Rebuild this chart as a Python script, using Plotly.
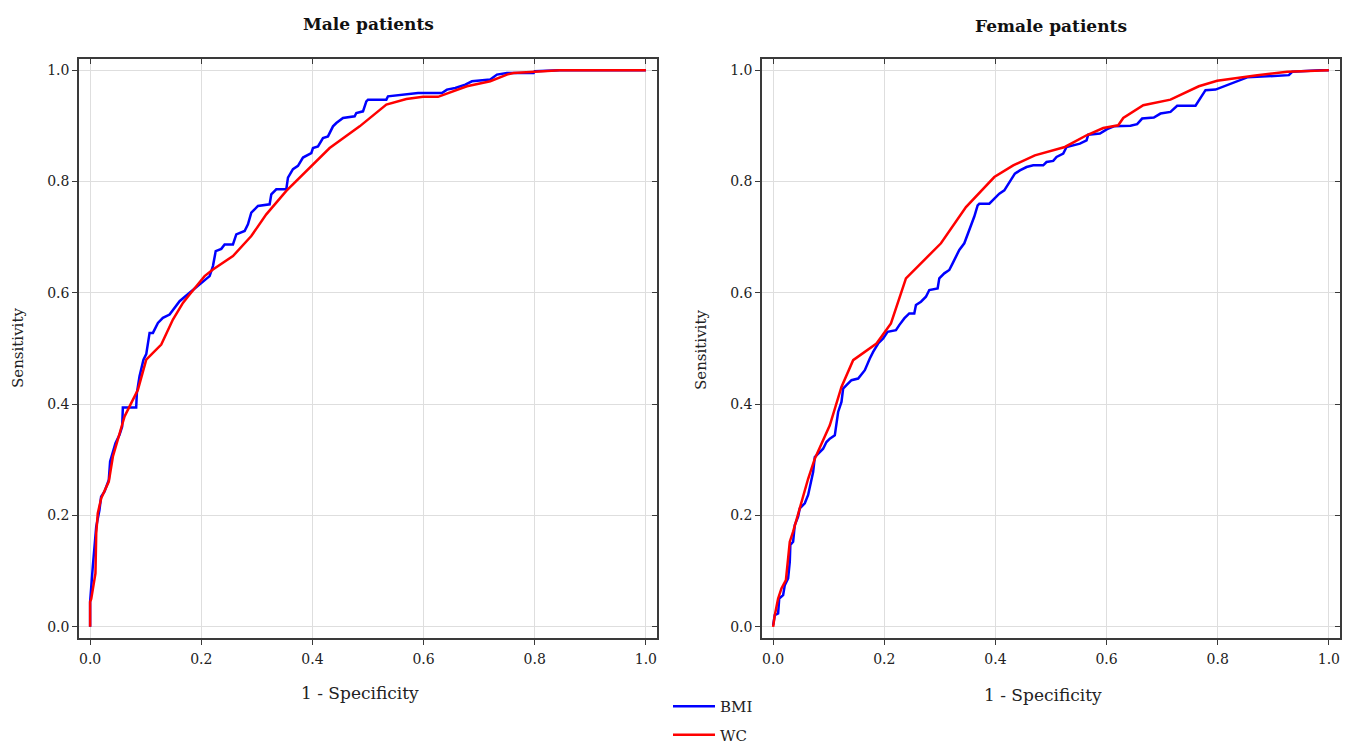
import plotly.graph_objects as go

# ---------------- data ----------------
male_bmi_fpr = [0, 0, 0.0048, 0.0078, 0.011, 0.0168, 0.0198, 0.0258, 0.0336, 0.036,
                0.0408, 0.0456, 0.0529, 0.0577, 0.0589, 0.0829, 0.0841, 0.0889, 0.096, 0.101,
                0.107, 0.113, 0.122, 0.131, 0.143, 0.152, 0.161, 0.179, 0.2, 0.215,
                0.221, 0.226, 0.236, 0.242, 0.257, 0.263, 0.278, 0.284, 0.29, 0.302,
                0.323, 0.326, 0.335, 0.353, 0.356, 0.365, 0.374, 0.383, 0.398, 0.401,
                0.41, 0.419, 0.428, 0.437, 0.443, 0.455, 0.476, 0.479, 0.491, 0.497,
                0.5, 0.533, 0.536, 0.59, 0.633, 0.642, 0.657, 0.675, 0.687, 0.72,
                0.732, 0.75, 0.798, 0.8, 0.845, 1.0]
male_bmi_tpr = [0, 0.045, 0.108, 0.147, 0.18, 0.21, 0.234, 0.243, 0.264, 0.297,
                0.312, 0.33, 0.345, 0.36, 0.394, 0.394, 0.42, 0.45, 0.48, 0.49,
                0.528, 0.528, 0.546, 0.555, 0.561, 0.573, 0.585, 0.6, 0.618, 0.63,
                0.648, 0.675, 0.679, 0.687, 0.687, 0.705, 0.711, 0.723, 0.744, 0.756,
                0.759, 0.777, 0.786, 0.786, 0.807, 0.822, 0.828, 0.843, 0.851, 0.86,
                0.863, 0.878, 0.881, 0.899, 0.905, 0.914, 0.917, 0.923, 0.926, 0.944,
                0.947, 0.947, 0.953, 0.959, 0.959, 0.965, 0.968, 0.974, 0.98, 0.983,
                0.992, 0.995, 0.995, 0.998, 1.0, 1.0]

male_wc_fpr = [0, 0, 0.002, 0.0096, 0.011, 0.0138, 0.02, 0.0336, 0.041, 0.0517,
               0.062, 0.071, 0.086, 0.101, 0.128, 0.149, 0.167, 0.179, 0.206, 0.221,
               0.257, 0.29, 0.317, 0.353, 0.401, 0.431, 0.485, 0.533, 0.569, 0.599,
               0.626, 0.678, 0.72, 0.75, 0.762, 0.8, 0.845, 1.0]
male_wc_tpr = [0, 0.045, 0.05, 0.096, 0.168, 0.204, 0.231, 0.261, 0.306, 0.342,
               0.378, 0.396, 0.426, 0.48, 0.507, 0.552, 0.582, 0.597, 0.63, 0.642,
               0.666, 0.702, 0.741, 0.783, 0.831, 0.86, 0.899, 0.938, 0.948, 0.952,
               0.952, 0.971, 0.98, 0.992, 0.995, 0.997, 1.0, 1.0]

female_bmi_fpr = [0, 0.003, 0.009, 0.011, 0.018, 0.021, 0.027, 0.03, 0.031, 0.036,
                  0.039, 0.045, 0.048, 0.057, 0.063, 0.069, 0.072, 0.075, 0.081, 0.09,
                  0.096, 0.102, 0.111, 0.114, 0.117, 0.123, 0.126, 0.132, 0.141, 0.153,
                  0.165, 0.174, 0.18, 0.189, 0.198, 0.206, 0.221, 0.227, 0.236, 0.245,
                  0.254, 0.257, 0.266, 0.275, 0.281, 0.296, 0.299, 0.308, 0.317, 0.323,
                  0.329, 0.335, 0.344, 0.35, 0.356, 0.362, 0.368, 0.371, 0.389, 0.398,
                  0.407, 0.416, 0.422, 0.428, 0.435, 0.444, 0.456, 0.468, 0.486, 0.492,
                  0.504, 0.51, 0.522, 0.528, 0.54, 0.552, 0.564, 0.567, 0.588, 0.601,
                  0.613, 0.643, 0.655, 0.664, 0.685, 0.697, 0.715, 0.727, 0.76, 0.766,
                  0.778, 0.796, 0.811, 0.823, 0.838, 0.853, 0.928, 0.934, 0.984, 1.0]
female_bmi_tpr = [0.003, 0.021, 0.024, 0.051, 0.057, 0.075, 0.087, 0.117, 0.147, 0.153,
                  0.183, 0.198, 0.213, 0.222, 0.237, 0.266, 0.278, 0.305, 0.311, 0.32,
                  0.332, 0.338, 0.344, 0.362, 0.386, 0.404, 0.428, 0.434, 0.443, 0.446,
                  0.461, 0.482, 0.494, 0.509, 0.518, 0.53, 0.533, 0.542, 0.554, 0.563,
                  0.563, 0.578, 0.584, 0.593, 0.605, 0.608, 0.626, 0.635, 0.641, 0.653,
                  0.665, 0.677, 0.689, 0.704, 0.719, 0.737, 0.757, 0.76, 0.76, 0.769,
                  0.778, 0.784, 0.793, 0.802, 0.814, 0.82, 0.826, 0.829, 0.829, 0.835,
                  0.837, 0.844, 0.85, 0.862, 0.865, 0.868, 0.874, 0.884, 0.886, 0.894,
                  0.899, 0.9, 0.903, 0.913, 0.915, 0.922, 0.925, 0.936, 0.936, 0.945,
                  0.964, 0.965, 0.971, 0.976, 0.981, 0.987, 0.991, 0.997, 1.0, 1.0]

female_wc_fpr = [0, 0.003, 0.009, 0.015, 0.023, 0.03, 0.036, 0.048, 0.063, 0.075,
                 0.102, 0.123, 0.144, 0.186, 0.212, 0.239, 0.302, 0.347, 0.398, 0.432,
                 0.471, 0.525, 0.564, 0.594, 0.621, 0.63, 0.666, 0.715, 0.766, 0.799,
                 0.871, 0.925, 1.0]
female_wc_tpr = [0, 0.021, 0.051, 0.069, 0.084, 0.153, 0.171, 0.213, 0.266, 0.302,
                 0.362, 0.431, 0.479, 0.509, 0.545, 0.626, 0.689, 0.754, 0.808, 0.829,
                 0.847, 0.862, 0.883, 0.896, 0.901, 0.914, 0.937, 0.947, 0.971, 0.981,
                 0.991, 0.997, 1.0]

assert len(male_bmi_fpr) == len(male_bmi_tpr)
assert len(male_wc_fpr) == len(male_wc_tpr)
assert len(female_bmi_fpr) == len(female_bmi_tpr)
assert len(female_wc_fpr) == len(female_wc_tpr)

panel_titles = ["Male patients", "Female patients"]
series_names = ["BMI", "WC"]
tick_values = [0.0, 0.2, 0.4, 0.6, 0.8, 1.0]
tick_labels = ["0.0", "0.2", "0.4", "0.6", "0.8", "1.0"]
x_title = "1 - Specificity"
y_title = "Sensitivity"

# ---------------- styling ----------------
W, H = 1352, 745
FONT = "DejaVu Serif"
BLUE = "#0000ff"
RED = "#ff0000"
GRID = "#dedede"
AXC = "#3a3a3a"
RNG = [-0.02, 1.02]

dom_x = [[79 / W, 657 / W], [762 / W, 1340 / W]]
dom_y = [1 - 638 / H, 1 - 59 / H]

fig = go.Figure()

data = [(male_bmi_fpr, male_bmi_tpr, male_wc_fpr, male_wc_tpr),
        (female_bmi_fpr, female_bmi_tpr, female_wc_fpr, female_wc_tpr)]

for i, (bf, bt, wf, wt) in enumerate(data):
    xa = "x" if i == 0 else "x2"
    ya = "y" if i == 0 else "y2"
    fig.add_trace(go.Scatter(x=bf, y=bt, mode="lines", name=series_names[0],
                             line=dict(color=BLUE, width=2.5), xaxis=xa, yaxis=ya,
                             legendgroup="a", showlegend=(i == 0)))
    fig.add_trace(go.Scatter(x=wf, y=wt, mode="lines", name=series_names[1],
                             line=dict(color=RED, width=2.5), xaxis=xa, yaxis=ya,
                             legendgroup="b", showlegend=(i == 0)))

# dummy traces for the overlay (inside-tick) axes
fig.add_trace(go.Scatter(x=[None], y=[None], xaxis="x3", yaxis="y3", showlegend=False, hoverinfo="skip"))
fig.add_trace(go.Scatter(x=[None], y=[None], xaxis="x4", yaxis="y4", showlegend=False, hoverinfo="skip"))

tickfont = dict(family=FONT, size=14, color="#222")

def main_axis(domain, anchor):
    return dict(domain=domain, anchor=anchor, range=RNG, tickvals=tick_values, ticktext=tick_labels,
                ticks="outside", ticklen=5, tickcolor=AXC, tickwidth=1,
                showline=True, linecolor=AXC, linewidth=1.5, mirror=True,
                showgrid=True, gridcolor=GRID, gridwidth=1, zeroline=False,
                tickfont=tickfont, fixedrange=True, automargin=False)

def inner_axis(overlay, side, anchor):
    return dict(overlaying=overlay, side=side, anchor=anchor, range=RNG, tickvals=tick_values,
                ticks="inside", ticklen=5, tickcolor=AXC, tickwidth=1,
                showticklabels=False, showgrid=False, showline=False, zeroline=False,
                automargin=False, fixedrange=True)

layout = dict(
    width=W, height=H, margin=dict(l=0, r=0, t=0, b=0, autoexpand=False),
    paper_bgcolor="white", plot_bgcolor="white",
    xaxis=main_axis(dom_x[0], "y"),
    yaxis=main_axis(dom_y, "x"),
    xaxis2=main_axis(dom_x[1], "y2"),
    yaxis2=main_axis(dom_y, "x2"),
    xaxis3=inner_axis("x", "top", "y3"),
    yaxis3=inner_axis("y", "right", "x3"),
    xaxis4=inner_axis("x2", "top", "y4"),
    yaxis4=inner_axis("y2", "right", "x4"),
    showlegend=True,
    legend=dict(x=668 / W, y=-6 / H, xanchor="left", yanchor="bottom",
                font=dict(family=FONT, size=15, color="#222"),
                traceorder="grouped", tracegroupgap=6, itemwidth=42,
                bgcolor="rgba(0,0,0,0)"),
)
fig.update_layout(**layout)
fig.layout.yaxis.ticklabelstandoff = 0
fig.layout.yaxis2.ticklabelstandoff = 0
fig.layout.xaxis.ticklabelstandoff = 2
fig.layout.xaxis2.ticklabelstandoff = 2

annots = []
for i in range(2):
    cx = (dom_x[i][0] + dom_x[i][1]) / 2
    annots.append(dict(text="<b>" + panel_titles[i] + "</b>", x=cx, y=1 - (24 + i * 2) / H,
                       xref="paper", yref="paper", showarrow=False,
                       font=dict(family=FONT, size=17, color="#111"), xanchor="center", yanchor="middle"))
    annots.append(dict(text=x_title, x=cx - 8 / W, y=1 - (693 + i * 2) / H,
                       xref="paper", yref="paper", showarrow=False,
                       font=dict(family=FONT, size=17, color="#222"), xanchor="center", yanchor="middle"))
annots.append(dict(text=y_title, x=18 / W, y=1 - 348 / H, xref="paper", yref="paper", showarrow=False,
                   textangle=-90, font=dict(family=FONT, size=15, color="#222"),
                   xanchor="center", yanchor="middle"))
annots.append(dict(text=y_title, x=701 / W, y=1 - 350 / H, xref="paper", yref="paper", showarrow=False,
                   textangle=-90, font=dict(family=FONT, size=15, color="#222"),
                   xanchor="center", yanchor="middle"))
fig.update_layout(annotations=annots)

fig.write_html("out.html", config={"displayModeBar": False},
               post_script="document.body.style.margin='0px';")
